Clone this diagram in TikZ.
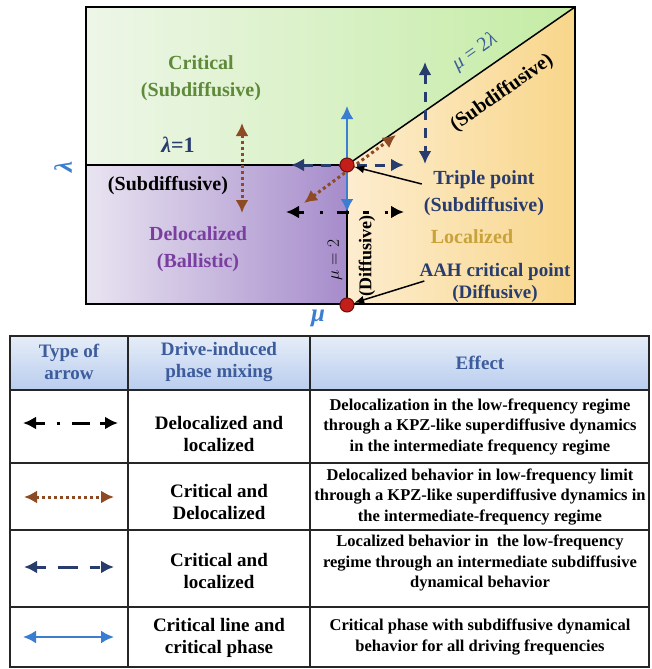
\documentclass[tikz,border=0pt]{standalone}
\usepackage{fontspec}
\setmainfont{Liberation Serif}
\usepackage{amsmath}
\usepackage{xcolor}
\usepackage{tikz}
\usetikzlibrary{arrows.meta,calc,positioning}

\definecolor{critgreen}{HTML}{5E8A3A}
\definecolor{delocpurple}{HTML}{7A3EA0}
\definecolor{locgold}{HTML}{C9A23A}
\definecolor{navyblue}{HTML}{283C6E}
\definecolor{lineblue}{HTML}{3B7DD0}
\definecolor{dotbrown}{HTML}{8E4A22}
\definecolor{pointred}{HTML}{C41E1A}
\definecolor{headblue}{HTML}{3D5C9C}
\definecolor{greenL}{HTML}{EEF6E8}
\definecolor{greenR}{HTML}{C4ECA4}
\definecolor{purpleL}{HTML}{E9E4F1}
\definecolor{purpleR}{HTML}{A68CCB}
\definecolor{orangeL}{HTML}{FDEDCF}
\definecolor{orangeR}{HTML}{F8D68A}
\definecolor{headtop}{HTML}{E6EDF8}
\definecolor{headbot}{HTML}{B9CDEE}

\begin{document}
\begin{tikzpicture}[x=1pt,y=-1pt,
  lbl/.style={font=\fontsize{20}{27}\selectfont\bfseries,align=center,inner sep=0pt},
  cell/.style={font=\fontsize{19}{22.5}\selectfont\bfseries,align=center,inner sep=0pt},
  effect/.style={font=\fontsize{16.5}{20.3}\selectfont\bfseries,align=center,inner sep=0pt},
  phasept/.style={circle,fill=pointred,draw=pointred!55!black,line width=1pt,minimum size=14pt,inner sep=0pt},
  bothtips/.style={{Latex[length=13pt,width=13pt]}-{Latex[length=13pt,width=13pt]}},
  solidarrow/.style={bothtips,lineblue,line width=2.2pt},
  dashedarrow/.style={bothtips,navyblue,line width=3pt,dash pattern=on 10pt off 8pt},
  dottedarrow/.style={bothtips,dotbrown,line width=3pt,dash pattern=on 3pt off 3pt},
  dashdotarrow/.style={bothtips,black,line width=3pt,dash pattern=on 6pt off 16pt on 3pt off 14pt on 12pt off 14pt},
  pointer/.style={-{Latex[length=10pt,width=8pt]},black,line width=1.5pt},
  grid/.style={line width=1.4pt,draw=black!85}]
\useasboundingbox (0,0) rectangle (651,669);

% phase regions
\shade[left color=greenL,right color=greenR] (86,7) -- (575,7) -- (347,165) -- (86,165) -- cycle;
\shade[left color=purpleL,right color=purpleR] (86,165) rectangle (347,304);
\shade[left color=orangeL,right color=orangeR] (347,165) -- (575,7) -- (575,304) -- (347,304) -- cycle;
\draw[line width=1.5pt] (86,7) rectangle (575,304);
\draw[line width=1.5pt] (86,165) -- (347,165) -- (347,304);
\draw[line width=1.5pt] (347,165) -- (575,7);

% arrows in the diagram
\coordinate (blueU) at (347,106);
\coordinate (blueD) at (347,212);
\coordinate (navyL) at (291,165);
\coordinate (navyR) at (404,165);
\coordinate (navyU) at (425,62);
\coordinate (navyD) at (425,164);
\coordinate (brownU) at (242,123);
\coordinate (brownD) at (242,213);
\coordinate (brownA) at (304,203);
\coordinate (brownB) at (396,135);
\coordinate (blackL) at (286,212);
\coordinate (blackR) at (404,212);
\draw[dottedarrow] (brownU) -- (brownD);
\draw[dottedarrow] (brownA) -- (brownB);
\draw[dashedarrow] (navyU) -- (navyD);
\draw[dashedarrow] (navyL) -- (navyR);
\draw[solidarrow] (blueU) -- (blueD);
\draw[dashdotarrow] (blackL) -- (blackR);

\node[phasept] (tp) at (347,165) {};
\node[phasept] (aah) at (347,305) {};

% labels
\node[lbl,text=critgreen] (crit) at (201,78) {Critical\\(Subdiffusive)};
\node[lbl,font=\fontsize{22}{22}\selectfont\bfseries,text=navyblue] (lam1) at (178,145) {\textit{λ}=1};
\node[lbl,font=\fontsize{25}{25}\selectfont\bfseries,text=lineblue,rotate=90] (lamax) at (63,167) {\textit{λ}};
\node[lbl,font=\fontsize{25}{25}\selectfont\bfseries,text=lineblue] (muax) at (318,318) {\textit{μ}};
\node[lbl] (subline) at (168,186) {(Subdiffusive)};
\node[lbl,text=delocpurple] (deloc) at (198,249) {Delocalized\\(Ballistic)};
\node[lbl,font=\fontsize{18}{18}\selectfont,rotate=90] (mu2) at (335,260) {$\mu = 2$};
\node[lbl,font=\fontsize{18}{18}\selectfont\bfseries,rotate=90] (diffl) at (367,256) {(Diffusive)};
\node[lbl,font=\fontsize{20}{20}\selectfont,text=headblue,rotate=35] (mu2lam) at (475,52) {\textit{μ} = 2\textit{λ}};
\node[lbl,rotate=35] (subdiag) at (502,93) {(Subdiffusive)};
\node[lbl,text=navyblue] (tlab) at (484,193) {Triple point\\(Subdiffusive)};
\node[lbl,text=locgold] (loc) at (472,237) {Localized};
\node[lbl,font=\fontsize{19}{22}\selectfont\bfseries,text=navyblue] (alab) at (495,283) {AAH critical point\\(Diffusive)};
\draw[pointer] ($(tlab.west)+(-2,-9)$) -- (tp);
\draw[pointer] ($(alab.west)+(5,-2)$) -- (aah);

% table
\shade[top color=headtop,bottom color=headbot] (10,336) rectangle (649,390);
\draw[grid] (10,336) rectangle (649,667);
\foreach \yy in {390,463,530,607} \draw[grid] (10,\yy) -- (649,\yy);
\foreach \xx in {128,310} \draw[grid] (\xx,336) -- (\xx,667);

\node[cell,text=headblue] (h1) at (69,362) {Type of\\arrow};
\node[cell,text=headblue] (h2) at (219,362) {Drive-induced\\phase mixing};
\node[cell,text=headblue] (h3) at (480,363) {Effect};

\coordinate (r1L) at (23,423);
\coordinate (r1R) at (118,423);
\coordinate (r2L) at (24,497);
\coordinate (r2R) at (114,497);
\coordinate (r3L) at (24,567);
\coordinate (r3R) at (114,567);
\coordinate (r4L) at (23,637);
\coordinate (r4R) at (114,637);
\draw[dashdotarrow,dash pattern=on 10pt off 12pt on 3pt off 12pt on 18pt off 10pt] (r1L) -- (r1R);
\draw[dottedarrow] (r2L) -- (r2R);
\draw[dashedarrow,dash pattern=on 10pt off 12pt on 20pt off 12pt] (r3L) -- (r3R);
\draw[solidarrow] (r4L) -- (r4R);

\node[cell] (m1) at (219,434) {Delocalized and\\localized};
\node[cell] (m2) at (219,502) {Critical and\\Delocalized};
\node[cell] (m3) at (219,571) {Critical and\\localized};
\node[cell] (m4) at (219,638) {Critical line and\\critical phase};

\node[effect] (e1) at (480,427) {Delocalization in the low-frequency regime\\through a KPZ-like superdiffusive dynamics\\in the intermediate frequency regime};
\node[effect] (e2) at (480,497) {Delocalized behavior in low-frequency limit\\through a KPZ-like superdiffusive dynamics in\\the intermediate-frequency regime};
\node[effect] (e3) at (480,563) {Localized behavior in\ \ the low-frequency\\regime through an intermediate subdiffusive\\dynamical behavior};
\node[effect] (e4) at (480,637) {Critical phase with subdiffusive dynamical\\behavior for all driving frequencies};
\end{tikzpicture}
\end{document}
